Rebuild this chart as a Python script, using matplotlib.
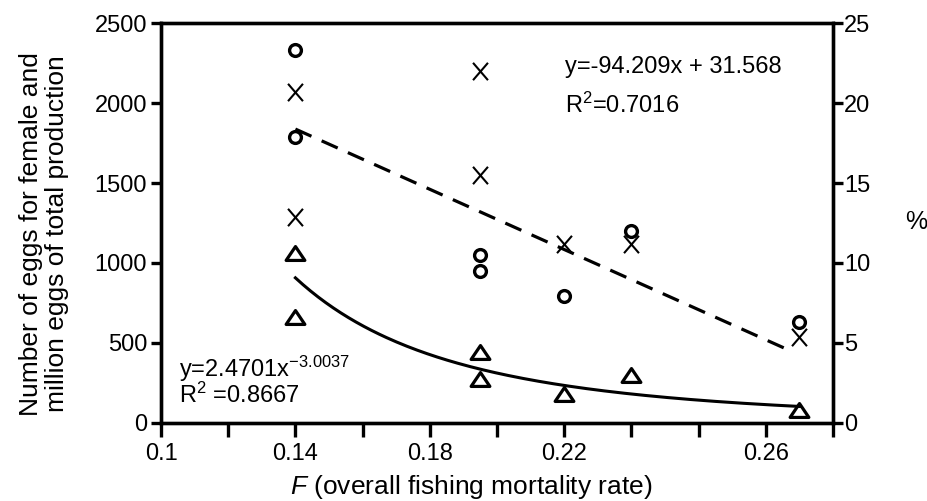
import numpy as np
import matplotlib
matplotlib.use("Agg")
import matplotlib.pyplot as plt
from matplotlib.path import Path

plt.rcParams["font.family"] = ["Liberation Sans", "DejaVu Sans"]
plt.rcParams["mathtext.fontset"] = "custom"
plt.rcParams["mathtext.rm"] = "Liberation Sans"
plt.rcParams["mathtext.it"] = "Liberation Sans:italic"
plt.rcParams["mathtext.sf"] = "Liberation Sans"
plt.rcParams["mathtext.default"] = "regular"

# F values (overall fishing mortality rate) for each observation
f_values = [0.14, 0.14, 0.195, 0.195, 0.22, 0.24, 0.29]

# circles, % (right axis)
percent = [23.3, 17.9, 10.5, 9.5, 7.9, 12.0, 6.3]
# X marks, number of eggs per female (left axis)
eggs_female = [2070, 1290, 2200, 1550, 1120, 1118, 538]
# triangles, million eggs of total production (left axis)
total_production = [1061, 663, 444, 273, 180, 298, 79]

# fitted lines shown on the chart
lin_slope, lin_intercept = -94.209, 31.568
lin_range = [0.14, 0.2875]
pow_coef, pow_exp = 2.4701, -3.0037
pow_range = [0.14, 0.29]

x_ticks = [0.10, 0.12, 0.14, 0.16, 0.18, 0.20, 0.22, 0.24, 0.26, 0.28, 0.30]
x_tick_labels = ["0.1", "", "0.14", "", "0.18", "", "0.22", "", "", "0.26", ""]
left_ticks = [0, 500, 1000, 1500, 2000, 2500]
right_ticks = [0, 5, 10, 15, 20, 25]

# marker shapes
x_mark = Path([(-0.43, -0.5), (0.43, 0.5), (-0.43, 0.5), (0.43, -0.5)],
              [Path.MOVETO, Path.LINETO, Path.MOVETO, Path.LINETO])
tri_mark = Path([(-0.5, -0.37), (0.5, -0.37), (0, 0.37), (-0.5, -0.37)],
                [Path.MOVETO, Path.LINETO, Path.LINETO, Path.CLOSEPOLY])

fig = plt.figure(figsize=(9.27, 5.01), dpi=100)
ax = fig.add_axes([161 / 927, 1 - 422.7 / 501, 672 / 927, 399.4 / 501])
ax2 = ax.twinx()

# left axis: X marks, triangles and power fit
ax.plot(f_values, eggs_female, linestyle="none", marker=x_mark, ms=12.5,
        mew=1.5, mec="black", mfc="none")
ax.plot(f_values, total_production, linestyle="none", marker=tri_mark, ms=13.5,
        mew=2.3, mec="black", mfc="none")
xp = np.linspace(pow_range[0], pow_range[1], 200)
ax.plot(xp, pow_coef * xp ** pow_exp, color="black", lw=2.2)

# right axis: circles and linear fit
ax2.plot(f_values, percent, linestyle="none", marker="o", ms=8.5,
         mew=2.4, mec="black", mfc="none")
xl = np.array(lin_range)
ax2.plot(xl, lin_slope * xl + lin_intercept, color="black", lw=2.3,
         linestyle=(0, (5.5, 3.5)))

ax.set_xlim(0.1, 0.3)
ax.set_ylim(0, 2500)
ax2.set_ylim(0, 25)
ax.set_xticks(x_ticks)
ax.set_xticklabels(x_tick_labels)
ax.set_yticks(left_ticks)
ax2.set_yticks(right_ticks)

for a in (ax, ax2):
    for s in a.spines.values():
        s.set_linewidth(2.4)
ax.tick_params(axis="x", length=10, width=2.4, pad=4.5, labelsize=17)
ax.tick_params(axis="y", length=7, width=2.4, pad=3, labelsize=17)
ax2.tick_params(axis="y", length=7, width=2.4, pad=1, labelsize=17)

# labels
ax.set_xlabel(r"$\mathit{F}$ (overall fishing mortality rate)", fontsize=19)
ax.xaxis.label.set_va("baseline")
ax.xaxis.set_label_coords(0.461, -0.178)

ax.set_ylabel("Number of eggs for female and\nmillion eggs of total production",
              fontsize=19, linespacing=1.12)
ax.yaxis.label.set_va("center")
ax.yaxis.set_label_coords(-0.174, 0.4725)

ax2.set_ylabel("%", fontsize=18, rotation=0)
ax2.yaxis.label.set_va("center")
ax2.yaxis.label.set_ha("center")
ax2.yaxis.set_label_coords(1.1235, 0.5025)

# equations
ax.text(0.2202, 2187, "y=-94.209x + 31.568", fontsize=17)
ax.text(0.2202, 1937, "R$^2$=0.7016", fontsize=17)
ax.text(0.1055, 288, "y=2.4701x$^{-3.0037}$", fontsize=17)
ax.text(0.1055, 121, "R$^2$ =0.8667", fontsize=17)

fig.savefig("out.png", dpi=100)
